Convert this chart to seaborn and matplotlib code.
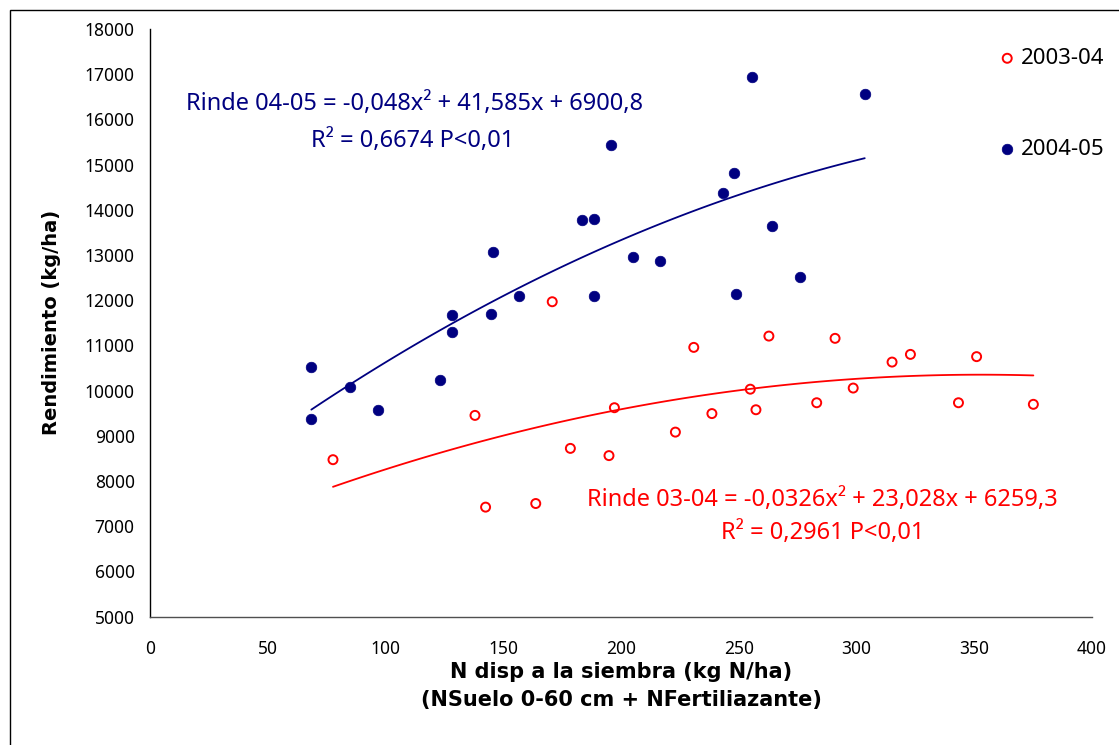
import numpy as np
import pandas as pd
import matplotlib.pyplot as plt
from matplotlib.patches import Rectangle
import seaborn as sns

# Campaña 2003-04 (N disponible kg N/ha, rendimiento kg/ha)
n_0304 = [77.7, 138.0, 142.5, 163.8, 170.8, 178.5, 194.9, 197.2, 223.1, 230.9, 238.6,
          254.9, 257.3, 262.8, 283.1, 290.9, 298.6, 315.1, 322.9, 343.3, 351.0, 375.1]
rinde_0304 = [8470, 9450, 7420, 7500, 11965, 8720, 8560, 9620, 9080, 10955, 9490,
              10030, 9575, 11205, 9730, 11155, 10055, 10630, 10800, 9730, 10750, 9695]

# Campaña 2004-05
n_0405 = [68.5, 68.5, 84.9, 96.7, 123.1, 128.4, 128.4, 144.8, 145.8, 156.5, 183.3, 188.5,
          188.5, 195.8, 205.0, 216.7, 243.3, 247.8, 248.7, 255.8, 264.3, 276.1, 303.5]
rinde_0405 = [10515, 9380, 10075, 9580, 10235, 11665, 11290, 11700, 13070, 12090, 13765, 13800,
              12090, 15425, 12945, 12870, 14370, 14810, 12135, 16930, 13645, 12505, 16565]

eq_0405 = ["Rinde 04-05 = -0,048x² + 41,585x + 6900,8", "R² = 0,6674 P<0,01"]
eq_0304 = ["Rinde 03-04 = -0,0326x² + 23,028x + 6259,3", "R² = 0,2961 P<0,01"]

x_ticks = list(range(0, 401, 50))
y_ticks = list(range(5000, 18001, 1000))

AZUL = '#000080'
ROJO = '#FF0000'

sns.set_style('white')
plt.rcParams['font.family'] = ['Noto Sans', 'DejaVu Sans']

df_0304 = pd.DataFrame({'N': n_0304, 'Rinde': rinde_0304})
df_0405 = pd.DataFrame({'N': n_0405, 'Rinde': rinde_0405})

fig = plt.figure(figsize=(11.19, 7.45), dpi=100)
ax = fig.add_axes([150 / 1119, 1 - 616.5 / 745, 942 / 1119, 587.5 / 745])

# Puntos
sns.scatterplot(data=df_0304, x='N', y='Rinde', ax=ax, marker='o', s=42,
                facecolor='none', edgecolor=ROJO, linewidth=1.4, label='2003-04', zorder=3)
sns.scatterplot(data=df_0405, x='N', y='Rinde', ax=ax, marker='o', s=58,
                color=AZUL, edgecolor=AZUL, linewidth=0.5, label='2004-05', zorder=3)

# Tendencias polinomicas (orden 2)
sns.regplot(data=df_0304, x='N', y='Rinde', ax=ax, order=2, ci=None, scatter=False,
            truncate=True, line_kws={'color': ROJO, 'linewidth': 1.3})
sns.regplot(data=df_0405, x='N', y='Rinde', ax=ax, order=2, ci=None, scatter=False,
            truncate=True, line_kws={'color': AZUL, 'linewidth': 1.3})

ax.set_xlim(0, 400)
ax.set_ylim(5000, 18000)
ax.set_xticks(x_ticks)
ax.set_yticks(y_ticks)
ax.tick_params(axis='both', direction='out', length=5, width=1, labelsize=12.5,
               colors='black', pad=6)
ax.tick_params(axis='x', pad=12)
for side in ['top', 'right']:
    ax.spines[side].set_visible(False)
ax.spines['left'].set_color('black')
ax.spines['bottom'].set_color('#505050')
ax.spines['left'].set_linewidth(1)
ax.spines['bottom'].set_linewidth(1)

ax.set_xlabel('N disp a la siembra (kg N/ha)\n(NSuelo 0-60 cm + NFertiliazante)',
              fontsize=15, fontweight='bold', family='DejaVu Sans', labelpad=3,
              linespacing=1.5, color='black')
ax.set_ylabel('Rendimiento (kg/ha)', fontsize=14, fontweight='bold',
              family='DejaVu Sans', labelpad=17, color='black')

# Ecuaciones
ax.text(15.3, 16330, eq_0405[0], color=AZUL, fontsize=17, va='center')
ax.text(68.4, 15520, eq_0405[1], color=AZUL, fontsize=17, va='center')
ax.text(185.6, 7570, eq_0304[0], color=ROJO, fontsize=17, va='center')
ax.text(242.5, 6840, eq_0304[1], color=ROJO, fontsize=17, va='center')

# Leyenda
leg = ax.legend(loc='upper left', bbox_to_anchor=(985 / 1119, 1 - 37 / 745),
                bbox_transform=fig.transFigure, frameon=False, labelspacing=3.15,
                handletextpad=0.1, handlelength=1.0, borderpad=0,
                prop={'size': 16})
for t in leg.get_texts():
    t.set_color('black')

# Marco del grafico
fig.add_artist(Rectangle((10 / 1119, -0.1), 1.2, 1.1 - 10 / 745,
                         transform=fig.transFigure, fill=False,
                         edgecolor='black', linewidth=1, clip_on=False))

plt.savefig('out.png', dpi=100)
plt.close()
